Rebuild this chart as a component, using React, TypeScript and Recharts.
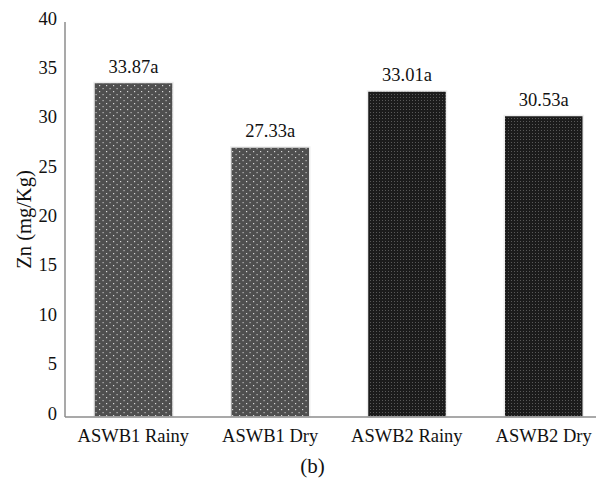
import { BarChart, Bar, XAxis, YAxis, Cell, LabelList } from "recharts";

const categories = ["ASWB1 Rainy", "ASWB1 Dry", "ASWB2 Rainy", "ASWB2 Dry"];
const znValues = [33.87, 27.33, 33.01, 30.53];
const groupLetters = ["a", "a", "a", "a"];
const patternIds = ["dotsLight", "dotsLight", "dotsDense", "dotsDense"];
const yTicks = [0, 5, 10, 15, 20, 25, 30, 35, 40];
const panelTag = "(b)";

const data = categories.map((name, i) => ({
  name,
  zn: znValues[i],
  label: `${znValues[i].toFixed(2)}${groupLetters[i]}`,
  pattern: patternIds[i],
}));

const font = "'Liberation Serif', 'Times New Roman', serif";

export default function App() {
  return (
    <div style={{ margin: "-8px 0 0 -8px", width: 604, height: 480, fontFamily: font }}>
      <BarChart
        width={604}
        height={480}
        data={data}
        margin={{ top: 22, right: 0, left: 15, bottom: 0 }}
        barSize={79}
      >
        <defs>
          <pattern id="dotsLight" width="7" height="6" patternUnits="userSpaceOnUse">
            <rect width="7" height="6" fill="#4f4f4f" />
            <rect x="1" y="1" width="1.2" height="1.2" fill="#d8d8d8" />
            <rect x="4.5" y="4" width="1.2" height="1.2" fill="#bdbdbd" />
          </pattern>
          <pattern id="dotsDense" width="3" height="3" patternUnits="userSpaceOnUse">
            <rect width="3" height="3" fill="#1b1b1b" />
            <rect x="1" y="1" width="1" height="1" fill="#585858" />
          </pattern>
        </defs>
        <XAxis
          dataKey="name"
          height={63}
          padding={{ left: 0, right: -8 }}
          axisLine={{ stroke: "#8c8c8c", strokeWidth: 1.5 }}
          tickLine={false}
          tickSize={0}
          tickMargin={12}
          tick={{ fill: "#111", fontSize: 18.5, fontFamily: font }}
          interval={0}
          label={{
            value: panelTag,
            position: "insideBottom",
            offset: 7,
            dx: -22,
            fontSize: 21,
            fill: "#111",
            fontFamily: font,
          }}
        />
        <YAxis
          width={50}
          domain={[0, 40]}
          ticks={yTicks}
          axisLine={{ stroke: "#8c8c8c", strokeWidth: 1.5 }}
          tickLine={false}
          tickSize={0}
          tickMargin={8}
          tick={{ fill: "#111", fontSize: 18.5, fontFamily: font, dy: -4 }}
          label={{
            value: "Zn (mg/Kg)",
            angle: -90,
            position: "insideLeft",
            offset: 9,
            fontSize: 20.5,
            fill: "#111",
            fontFamily: font,
            style: { textAnchor: "middle" },
          }}
        />
        <Bar dataKey="zn" isAnimationActive={false} stroke="#eeeeee" strokeWidth={1.5}>
          {data.map((d) => (
            <Cell key={d.name} fill={`url(#${d.pattern})`} />
          ))}
          <LabelList
            dataKey="label"
            position="top"
            offset={10}
            fontSize={18.5}
            fill="#111"
            fontFamily={font}
          />
        </Bar>
      </BarChart>
    </div>
  );
}
